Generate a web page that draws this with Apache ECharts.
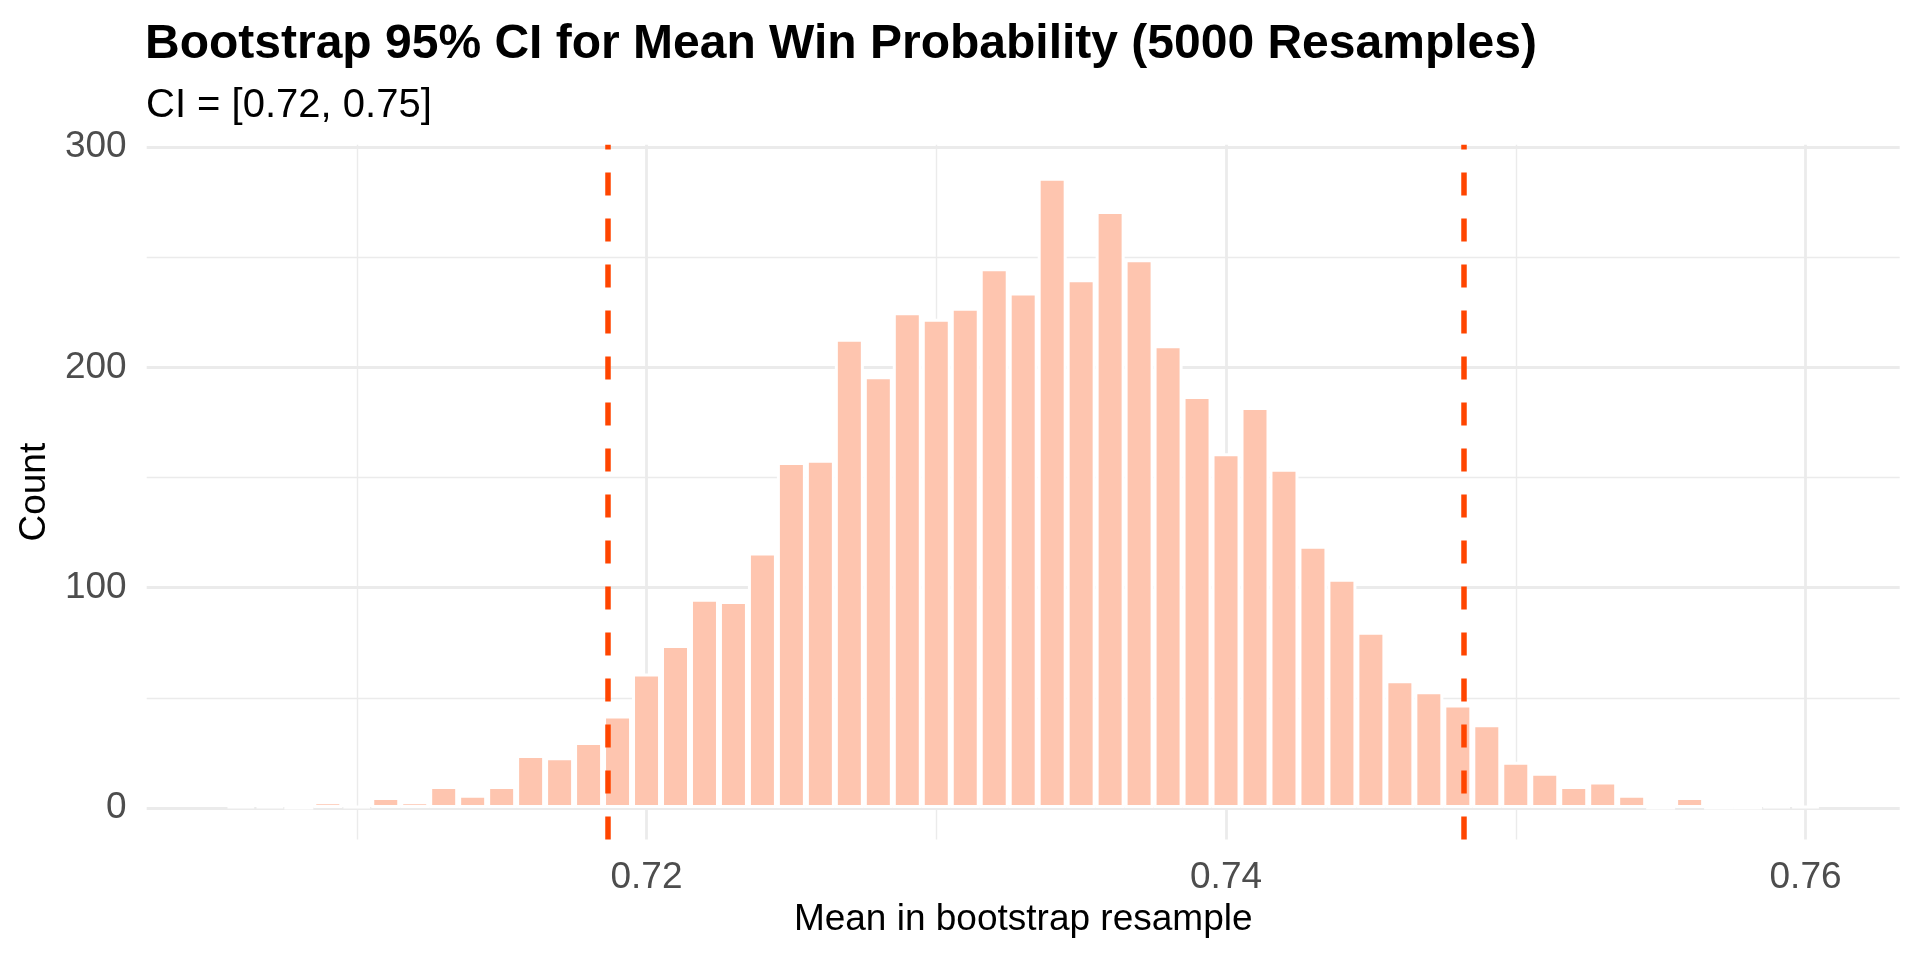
<!DOCTYPE html>
<html>
<head>
<meta charset="utf-8">
<script src="https://cdn.jsdelivr.net/npm/echarts@6/dist/echarts.min.js"></script>
<style>
html,body{margin:0;padding:0;background:#ffffff;}
#chart{width:1920px;height:960px;}
</style>
</head>
<body>
<div id="chart"></div>
<script>
// ---- data ----
const binCenters = [
  0.706, 0.707, 0.708, 0.709, 0.710, 0.711, 0.712, 0.713, 0.714, 0.715,
  0.716, 0.717, 0.718, 0.719, 0.720, 0.721, 0.722, 0.723, 0.724, 0.725,
  0.726, 0.727, 0.728, 0.729, 0.730, 0.731, 0.732, 0.733, 0.734, 0.735,
  0.736, 0.737, 0.738, 0.739, 0.740, 0.741, 0.742, 0.743, 0.744, 0.745,
  0.746, 0.747, 0.748, 0.749, 0.750, 0.751, 0.752, 0.753, 0.754, 0.755,
  0.756, 0.757, 0.758, 0.759, 0.760
];
const counts = [
  1, 1, 0, 3, 1, 5, 3, 10, 6, 10,
  24, 23, 30, 42, 61, 74, 95, 94, 116, 157,
  158, 213, 196, 225, 222, 227, 245, 234, 286, 240,
  271, 249, 210, 187, 161, 182, 154, 119, 104, 80,
  58, 53, 47, 38, 21, 16, 10, 12, 6, 0,
  5, 0, 0, 1, 1
];
const ciBounds = [0.71867, 0.74821];
const xTickLabels = [0.72, 0.74, 0.76];
const xMinorGrid = [0.71, 0.73, 0.75];
const yTickLabels = [0, 100, 200, 300];
const yMinorGrid = [50, 150, 250];
const xRange = [0.70275, 0.76325];
const yRange = [-14.35, 301];

const titleText = 'Bootstrap 95% CI for Mean Win Probability (5000 Resamples)';
const subtitleText = 'CI = [0.72, 0.75]';
const xTitle = 'Mean in bootstrap resample';
const yTitle = 'Count';

// ---- styles ----
const FONT = '"Liberation Sans", Arial, Helvetica, sans-serif';
const GRID_COLOR = '#EBEBEB';
const BAR_COLOR = '#FEC5AF';
const CI_COLOR = '#FF4500';

const histData = binCenters.map((x, i) => [x, counts[i]]);

const gridLines = [];
xTickLabels.forEach(v => gridLines.push({xAxis: v, lineStyle: {width: 2.8}}));
xMinorGrid.forEach(v => gridLines.push({xAxis: v, lineStyle: {width: 1.4}}));
yTickLabels.forEach(v => gridLines.push({yAxis: v, lineStyle: {width: 2.8}}));
yMinorGrid.forEach(v => gridLines.push({yAxis: v, lineStyle: {width: 1.4}}));

const chart = echarts.init(document.getElementById('chart'), null, {renderer: 'canvas'});
chart.setOption({
  animation: false,
  backgroundColor: '#ffffff',
  textStyle: {fontFamily: FONT},
  title: [
    {
      text: titleText, left: 145, top: 21, padding: 0,
      textStyle: {fontFamily: FONT, fontSize: 48, fontWeight: 'bold', color: '#000000'}
    },
    {
      text: subtitleText, left: 146, top: 86, padding: 0,
      textStyle: {fontFamily: FONT, fontSize: 40, fontWeight: 'normal', color: '#000000'}
    }
  ],
  grid: {left: 146.7, right: 20.3, top: 144.8, bottom: 120.4, containLabel: false},
  xAxis: {
    type: 'value',
    min: xRange[0], max: xRange[1],
    name: xTitle, nameLocation: 'middle', nameGap: 56,
    nameTextStyle: {fontFamily: FONT, fontSize: 37, color: '#000000'},
    axisLine: {show: false}, axisTick: {show: false}, splitLine: {show: false},
    axisLabel: {
      customValues: xTickLabels, margin: 20,
      fontFamily: FONT, fontSize: 37, color: '#4D4D4D',
      formatter: v => v.toFixed(2)
    }
  },
  yAxis: {
    type: 'value',
    min: yRange[0], max: yRange[1],
    name: yTitle, nameLocation: 'middle', nameGap: 93, nameRotate: 90,
    nameTextStyle: {fontFamily: FONT, fontSize: 37, color: '#000000'},
    axisLine: {show: false}, axisTick: {show: false}, splitLine: {show: false},
    axisLabel: {
      customValues: yTickLabels, margin: 20,
      fontFamily: FONT, fontSize: 37, color: '#4D4D4D',
      formatter: v => String(Math.round(v))
    }
  },
  series: [
    {
      name: 'grid', type: 'line', data: [], z: 0, silent: true,
      markLine: {
        z: 0, silent: true, symbol: ['none', 'none'], animation: false,
        precision: 10,
        label: {show: false},
        lineStyle: {color: GRID_COLOR, type: 'solid'},
        emphasis: {disabled: true},
        data: gridLines
      }
    },
    {
      name: 'Count', type: 'bar', data: histData, z: 2,
      barWidth: 29,
      itemStyle: {color: BAR_COLOR, borderColor: '#ffffff', borderWidth: 3},
      emphasis: {disabled: true},
      markLine: {
        z: 5, silent: true, symbol: ['none', 'none'], animation: false,
        precision: 10,
        label: {show: false},
        lineStyle: {color: CI_COLOR, type: [23, 23], width: 5.5},
        emphasis: {disabled: true},
        data: ciBounds.map(v => ({xAxis: v}))
      }
    }
  ]
});
</script>
</body>
</html>
